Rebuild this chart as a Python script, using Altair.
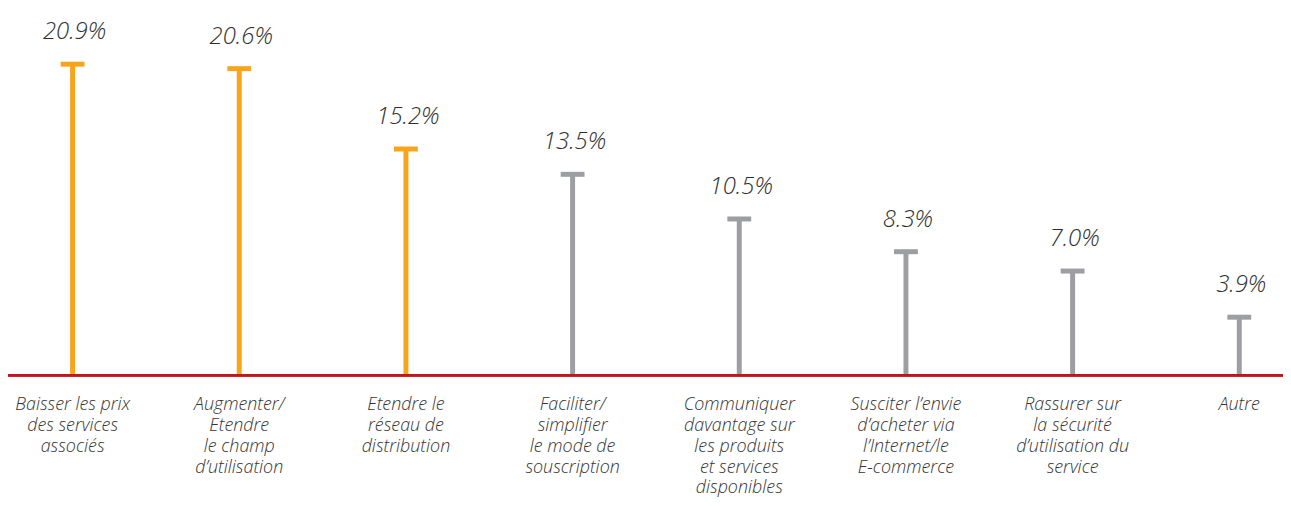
import altair as alt
import pandas as pd

categories = [
    "Baisser les prix\ndes services\nassociés",
    "Augmenter/\nEtendre\nle champ\nd’utilisation",
    "Etendre le\nréseau  de\ndistribution",
    "Faciliter/\nsimplifier\nle mode de\nsouscription",
    "Communiquer\ndavantage sur\nles produits\net services\ndisponibles",
    "Susciter l’envie\nd’acheter via\nl’Internet/le\nE-commerce",
    "Rassurer sur\nla sécurité\nd’utilisation du\nservice",
    "Autre",
]
values = [20.9, 20.6, 15.2, 13.5, 10.5, 8.3, 7.0, 3.9]
value_labels = ["20.9%", "20.6%", "15.2%", "13.5%", "10.5%", "8.3%", "7.0%", "3.9%"]
groups = ["top", "top", "top", "other", "other", "other", "other", "other"]

df = pd.DataFrame({
    "idx": list(range(len(categories))),
    "cat": categories,
    "value": values,
    "label": value_labels,
    "group": groups,
})

W, H = 1283, 490
xs = alt.Scale(type="point", range=[65, 1239], padding=0)
ys = alt.Scale(domain=[0, 20.9], range=[368, 55])
cs = alt.Scale(domain=["top", "other"], range=["#f8a51b", "#9d9ea2"])

X = alt.X("idx:O", scale=xs, axis=None)

base = alt.Chart(df)

stems = base.mark_rule(strokeWidth=5).encode(
    x=X,
    y=alt.Y("value:Q", scale=ys, axis=None),
    y2=alt.Y2(datum=0),
    color=alt.Color("group:N", scale=cs, legend=None),
)

caps = base.mark_tick(size=24, thickness=5, opacity=1).encode(
    x=X,
    y=alt.Y("value:Q", scale=ys, axis=None),
    color=alt.Color("group:N", scale=cs, legend=None),
)

vlabels = base.mark_text(
    font="Open Sans", fontStyle="italic", fontWeight=300, fontSize=24,
    color="#2e2e2e", baseline="alphabetic", dy=-25, dx=2,
).encode(
    x=X,
    y=alt.Y("value:Q", scale=ys, axis=None),
    text="label:N",
)

clabels = base.mark_text(
    font="Open Sans", fontStyle="italic", fontWeight=300, fontSize=18,
    color="#333333", baseline="top", lineBreak="\n", lineHeight=21, dy=21,
).encode(
    x=X,
    y=alt.Y(datum=0, type="quantitative", scale=ys, axis=None),
    text="cat:N",
)

baseline = alt.Chart(df).mark_rule(color="#c0161c", strokeWidth=2).encode(
    x=alt.value(0),
    x2=alt.value(W),
    y=alt.Y(datum=0, type="quantitative", scale=ys, axis=None),
)

chart = alt.layer(stems, caps, baseline, vlabels, clabels).properties(
    width=W, height=H,
    autosize=alt.AutoSizeParams(type="none"),
    padding=0,
    background="white",
).configure_view(stroke=None)

chart.save("out.html", embed_options={"renderer": "svg", "actions": False})
